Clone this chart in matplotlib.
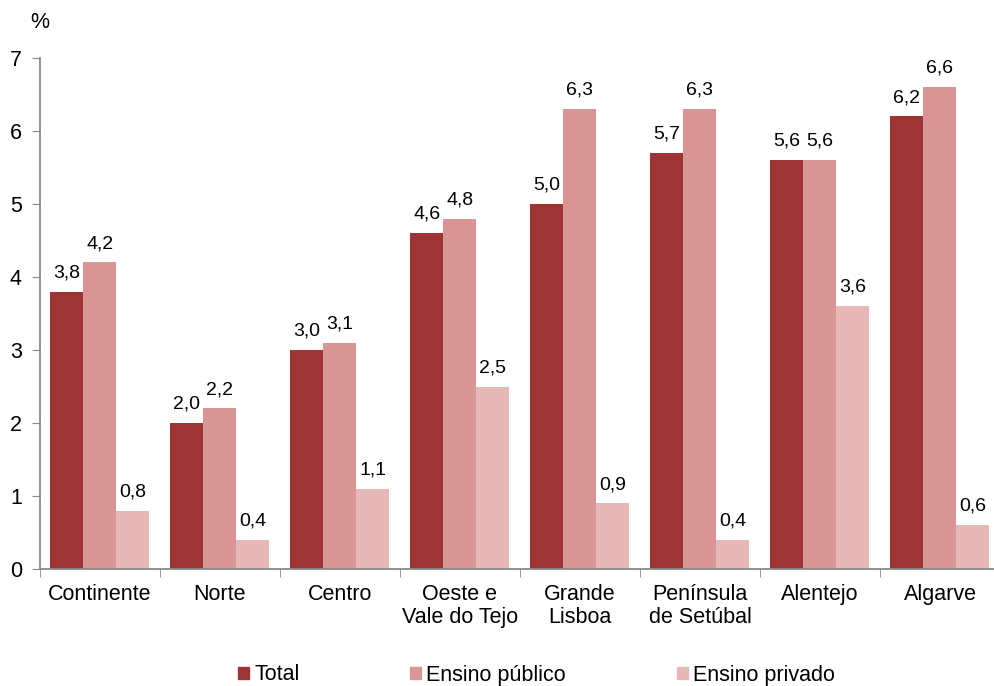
import matplotlib
matplotlib.use("Agg")
import matplotlib.pyplot as plt
import numpy as np
from matplotlib.patches import Patch

plt.rcParams['font.family'] = ['Liberation Sans', 'DejaVu Sans']

categories = ["Continente", "Norte", "Centro", "Oeste e\nVale do Tejo", "Grande\nLisboa",
              "Península\nde Setúbal", "Alentejo", "Algarve"]
total = [3.8, 2.0, 3.0, 4.6, 5.0, 5.7, 5.6, 6.2]
publico = [4.2, 2.2, 3.1, 4.8, 6.3, 6.3, 5.6, 6.6]
privado = [0.8, 0.4, 1.1, 2.5, 0.9, 0.4, 3.6, 0.6]
series = [("Total", total, "#9E3535"), ("Ensino público", publico, "#D99694"),
          ("Ensino privado", privado, "#E6B9B8")]

W, H = 995, 686
fig = plt.figure(figsize=(W/100, H/100), dpi=100)
ax = fig.add_axes([40/W, (H-569)/H, 960/W, (569-58)/H])

x = np.arange(len(categories))
bw = 0.275
for i, (name, vals, col) in enumerate(series):
    pos = x + (i-1)*bw
    ax.bar(pos, vals, width=bw, color=col, label=name)
    for p, v in zip(pos, vals):
        ax.text(p, v + 0.14, f"{v:.1f}".replace(".", ","), ha="center", va="bottom", fontsize=14)

ax.set_xlim(-0.5, len(categories)-0.5)
ax.set_ylim(0, 7)
ax.set_yticks(range(8))
ax.tick_params(axis='y', labelsize=15.5, length=6, color="#898989", pad=7)
ax.set_xticks(x)
ax.set_xticklabels(categories, fontsize=15.5, linespacing=1.1)
ax.tick_params(axis='x', length=0, pad=11)
ax.set_xticks(np.arange(-0.5, len(categories)), minor=True)
ax.tick_params(axis='x', which='minor', length=6, color="#898989")
for s in ["top", "right"]:
    ax.spines[s].set_visible(False)
for s in ["left", "bottom"]:
    ax.spines[s].set_color("#898989")
    ax.spines[s].set_linewidth(1.3)

fig.text(40/W, 1-22/H, "%", fontsize=15.5, ha="center", va="center")

handles = [Patch(color=c, label=n) for n, _, c in series]
fig.legend(handles=handles, loc="center", bbox_to_anchor=(536.5/W, 1-675/H), ncol=3,
           frameon=False, fontsize=15.5, handlelength=0.51, handleheight=0.51,
           handletextpad=0.23, columnspacing=5.16, borderpad=0)

fig.savefig("out.png", dpi=100)
